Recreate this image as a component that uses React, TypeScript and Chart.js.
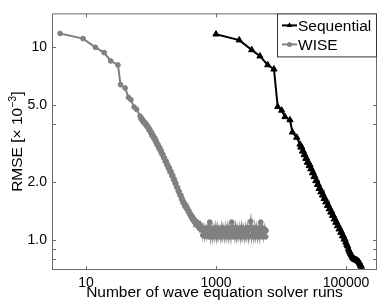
import React, { useEffect, useRef } from 'react';
import { Chart, registerables } from 'chart.js';

Chart.register(...registerables);

const FONT = "'Liberation Sans', Arial, Helvetica, sans-serif";

const SERIES_NAMES = ['Sequential', 'WISE'];

const SEQ_X = [1000, 2280, 3540, 4750, 6250, 7800, 8900, 10250, 11530, 13750, 15000, 17450,
  19600, 20200, 20800, 21400, 22000, 22700, 23400, 24100, 24800, 25500,
  26300, 27100, 27900, 28700, 29600, 30500, 31400, 32300, 33300, 34300,
  35300, 36400, 37500, 38600, 39800, 41000, 42200, 43500, 44800, 46100,
  47500, 48900, 50400, 51900, 53500, 55100, 56700, 58400, 60200, 62000,
  63900, 65800, 67700, 69800, 71900, 74000, 76200, 78500, 80900, 83300,
  85800, 88400, 91000, 93800, 96600, 99500,
  103000, 106000, 109000, 112000, 115000, 118000, 121000, 125000, 128000, 132000,
  136000, 140000, 144000, 148000, 152000, 155000, 159000, 162000, 165000, 168000,
  170000, 172000];
const SEQ_Y = [11.7, 10.9, 9.7, 9.0, 8.1, 7.7, 4.92, 4.71, 4.36, 4.20, 3.63, 3.41,
  3.14, 3.03, 3.04, 2.89, 2.90, 2.77, 2.77, 2.65, 2.65, 2.53,
  2.54, 2.43, 2.46, 2.34, 2.34, 2.23, 2.24, 2.13, 2.14, 2.03,
  2.04, 1.94, 1.945, 1.85, 1.86, 1.775, 1.79, 1.71, 1.715, 1.64,
  1.65, 1.575, 1.585, 1.51, 1.52, 1.45, 1.46, 1.395, 1.40, 1.34,
  1.345, 1.285, 1.29, 1.235, 1.24, 1.185, 1.19, 1.14, 1.145, 1.095,
  1.10, 1.05, 1.055, 1.01, 1.01, 0.975,
  0.95, 0.93, 0.90, 0.88, 0.865, 0.85, 0.835, 0.82, 0.81, 0.80,
  0.795, 0.79, 0.787, 0.785, 0.78, 0.775, 0.768, 0.76, 0.75, 0.74,
  0.735, 0.73];

const WISE_X = [4, 9, 14, 19, 24, 31, 34, 40, 45, 49, 55, 60,
  68, 70, 72, 74, 76, 78, 81, 83, 86, 88,
  91, 93, 96, 99, 102, 105, 108, 111, 114, 118,
  121, 125, 128, 132, 136, 140, 144, 148, 152, 157,
  161, 166, 171, 176, 181, 186, 192, 198, 203, 209,
  215, 222, 228, 235, 241, 249, 256, 263, 271, 279,
  287, 296, 304, 313, 322, 332, 341, 351, 361, 372,
  383, 394, 405, 417, 429, 442, 455, 468, 482, 496,
  510, 525, 541, 557, 573, 590,
  605, 627, 650, 673, 697, 722, 748, 775, 803, 832,
  862, 893, 925, 958, 993, 1029, 1066, 1104, 1144, 1185,
  1228, 1272, 1318, 1365, 1414, 1465, 1518, 1573, 1630, 1688,
  1749, 1812, 1877, 1945, 2015, 2087, 2162, 2240, 2321, 2404,
  2491, 2580, 2673, 2769, 2869, 2972, 3079, 3190, 3305, 3424,
  3547, 3675, 3807, 3944, 4086, 4233, 4385, 4543, 4707, 4876,
  5052, 5234, 5422, 5617, 5820, 5900];
const WISE_Y = [11.8, 11.1, 10.0, 9.4, 8.5, 8.1, 6.4, 6.15, 5.5, 5.35, 4.9, 4.77,
  4.40, 4.26, 4.28, 4.16, 4.17, 4.06, 4.07, 3.96, 3.97, 3.87,
  3.85, 3.73, 3.75, 3.61, 3.62, 3.48, 3.50, 3.36, 3.38, 3.24,
  3.26, 3.12, 3.14, 3.00, 3.02, 2.89, 2.90, 2.78, 2.79, 2.67,
  2.67, 2.56, 2.57, 2.45, 2.46, 2.36, 2.37, 2.26, 2.27, 2.16,
  2.17, 2.06, 2.07, 1.97, 1.98, 1.88, 1.88, 1.79, 1.79, 1.71,
  1.71, 1.63, 1.63, 1.56, 1.57, 1.50, 1.52, 1.46, 1.47, 1.41,
  1.42, 1.36, 1.37, 1.31, 1.33, 1.27, 1.29, 1.24, 1.26, 1.20,
  1.24, 1.18, 1.22, 1.15, 1.20, 1.13,
  1.16, 1.06, 1.15, 1.05, 1.14, 1.06, 1.16, 1.04, 1.24, 1.05,
  1.15, 1.04, 1.14, 1.05, 1.16, 1.04, 1.15, 1.05, 1.13, 1.04,
  1.16, 1.05, 1.14, 1.04, 1.15, 1.05, 1.16, 1.04, 1.14, 1.05,
  1.24, 1.04, 1.15, 1.05, 1.16, 1.04, 1.14, 1.05, 1.15, 1.04,
  1.16, 1.05, 1.14, 1.04, 1.15, 1.05, 1.16, 1.04, 1.15, 1.25,
  1.05, 1.14, 1.04, 1.16, 1.05, 1.15, 1.04, 1.14, 1.05, 1.24,
  1.04, 1.15, 1.05, 1.14, 1.04, 1.12];

const X_RANGE = [3, 300000];
const Y_RANGE = [0.7, 15];
const X_TICKS = [10, 1000, 100000];
const X_TICK_LABELS = ['10', '1000', '100000'];
const Y_TICKS = [0.8, 0.9, 1, 2, 4, 5, 10];
const Y_TICK_LABELS = ['', '', '1.0', '2.0', '', '5.0', '10'];
const X_TITLE = 'Number of wave equation solver runs';
const Y_TITLE_MAIN = 'RMSE [× 10';
const Y_TITLE_SUP = '−3';
const Y_TITLE_END = ']';

const framePlugin = {
  id: 'frame',
  afterDatasetsDraw(chart: any) {
    const { ctx, chartArea: a, scales } = chart;
    ctx.save();
    ctx.strokeStyle = '#6a6a6a';
    ctx.lineWidth = 1;
    ctx.strokeRect(a.left + 0.5, a.top + 0.5, a.right - a.left - 1, a.bottom - a.top - 1);
    const tl = 4;
    ctx.beginPath();
    scales.x.ticks.forEach((t: any) => {
      const p = Math.round(scales.x.getPixelForValue(t.value)) + 0.5;
      ctx.moveTo(p, a.bottom);
      ctx.lineTo(p, a.bottom - tl);
      ctx.moveTo(p, a.top);
      ctx.lineTo(p, a.top + tl);
    });
    scales.y.ticks.forEach((t: any) => {
      const p = Math.round(scales.y.getPixelForValue(t.value)) + 0.5;
      ctx.moveTo(a.left, p);
      ctx.lineTo(a.left + tl, p);
      ctx.moveTo(a.right, p);
      ctx.lineTo(a.right - tl, p);
    });
    ctx.stroke();
    ctx.restore();
  },
  afterDraw(chart: any) {
    const { ctx, chartArea: a } = chart;
    ctx.save();
    const big = `15.5px ${FONT}`;
    const small = `10.5px ${FONT}`;
    ctx.font = big;
    const w1 = ctx.measureText(Y_TITLE_MAIN).width;
    const w3 = ctx.measureText(Y_TITLE_END).width;
    ctx.font = small;
    const w2 = ctx.measureText(Y_TITLE_SUP).width;
    const total = w1 + w2 + w3;
    ctx.translate(22, (a.top + a.bottom) / 2);
    ctx.rotate(-Math.PI / 2);
    ctx.fillStyle = '#000';
    ctx.textBaseline = 'alphabetic';
    ctx.textAlign = 'left';
    const x0 = -total / 2;
    ctx.font = big;
    ctx.fillText(Y_TITLE_MAIN, x0, 0);
    ctx.font = small;
    ctx.fillText(Y_TITLE_SUP, x0 + w1, -6);
    ctx.font = big;
    ctx.fillText(Y_TITLE_END, x0 + w1 + w2, 0);
    ctx.restore();

    ctx.save();
    const lx = 277, ly = a.top, lw = a.right - 277, lh = 44;
    ctx.fillStyle = '#fff';
    ctx.fillRect(lx, ly, lw, lh);
    ctx.strokeStyle = '#333';
    ctx.lineWidth = 1;
    ctx.strokeRect(lx + 0.5, ly + 0.5, lw - 1, lh - 1);
    const rows = [ly + 12, ly + 31];
    chart.data.datasets.forEach((ds: any, i: number) => {
      const y = rows[i];
      ctx.strokeStyle = ds.borderColor;
      ctx.lineWidth = 2;
      ctx.beginPath();
      ctx.moveTo(lx + 5, y);
      ctx.lineTo(lx + 20, y);
      ctx.stroke();
      ctx.fillStyle = ds.borderColor;
      ctx.beginPath();
      if (ds.pointStyle === 'triangle') {
        const r = 3.2;
        ctx.moveTo(lx + 12.5, y - r);
        ctx.lineTo(lx + 12.5 + r * 0.866, y + r * 0.5);
        ctx.lineTo(lx + 12.5 - r * 0.866, y + r * 0.5);
        ctx.closePath();
      } else {
        ctx.arc(lx + 12.5, y, 2.5, 0, Math.PI * 2);
      }
      ctx.fill();
      ctx.fillStyle = '#000';
      ctx.font = `15.5px ${FONT}`;
      ctx.textBaseline = 'middle';
      ctx.textAlign = 'left';
      ctx.fillText(ds.label, lx + 21, y + 1);
    });
    ctx.restore();
  },
};

export default function App() {
  const ref = useRef<HTMLCanvasElement>(null);
  useEffect(() => {
    if (!ref.current) return;
    const seqData = SEQ_X.map((x, i) => ({ x, y: SEQ_Y[i] }));
    const wiseData = WISE_X.map((x, i) => ({ x, y: WISE_Y[i] }));
    const chart = new Chart(ref.current, {
      type: 'scatter',
      data: {
        datasets: [
          {
            label: SERIES_NAMES[0],
            data: seqData,
            showLine: true,
            borderColor: '#000000',
            backgroundColor: '#000000',
            borderWidth: 2,
            pointStyle: 'triangle',
            pointRadius: 3.6,
            pointBorderWidth: 1,
            pointBorderColor: '#000000',
            pointBackgroundColor: '#000000',
            tension: 0,
          },
          {
            label: SERIES_NAMES[1],
            data: wiseData,
            showLine: true,
            borderColor: '#808080',
            backgroundColor: '#808080',
            borderWidth: 2,
            pointStyle: 'circle',
            pointRadius: 2.4,
            pointBorderWidth: 1,
            pointBorderColor: '#808080',
            pointBackgroundColor: '#808080',
            tension: 0,
          },
        ],
      } as any,
      options: {
        responsive: false,
        animation: false,
        devicePixelRatio: 1,
        events: [],
        layout: { padding: { left: 0, right: 5, top: 5, bottom: 0 } },
        plugins: { legend: { display: false }, tooltip: { enabled: false } },
        scales: {
          x: {
            type: 'logarithmic',
            position: 'bottom',
            min: X_RANGE[0],
            max: X_RANGE[1],
            afterFit: (s: any) => { s.height = 36; },
            afterBuildTicks: (s: any) => { s.ticks = X_TICKS.map((v) => ({ value: v })); },
            ticks: {
              autoSkip: false,
              maxRotation: 0,
              minRotation: 0,
              padding: 5,
              color: '#000',
              font: { family: FONT, size: 14 },
              callback: (v: any) => {
                const i = X_TICKS.indexOf(Number(v));
                return i >= 0 ? X_TICK_LABELS[i] : '';
              },
            },
            grid: { display: false, drawTicks: false },
            border: { display: false },
            title: {
              display: true,
              text: X_TITLE,
              color: '#000',
              font: { family: FONT, size: 15.5 },
              padding: { top: 0, bottom: 4 },
            },
          },
          y: {
            type: 'logarithmic',
            position: 'left',
            min: Y_RANGE[0],
            max: Y_RANGE[1],
            afterFit: (s: any) => { s.width = 52; },
            afterBuildTicks: (s: any) => { s.ticks = Y_TICKS.map((v) => ({ value: v })); },
            ticks: {
              autoSkip: false,
              padding: 5,
              color: '#000',
              font: { family: FONT, size: 14 },
              callback: (v: any) => {
                const i = Y_TICKS.indexOf(Number(v));
                return i >= 0 ? Y_TICK_LABELS[i] : '';
              },
            },
            grid: { display: false, drawTicks: false },
            border: { display: false },
          },
        },
      } as any,
      plugins: [framePlugin],
    });
    return () => chart.destroy();
  }, []);
  return (
    <div style={{ position: 'absolute', left: 0, top: 0, width: 382, height: 306, background: '#fff' }}>
      <canvas ref={ref} width={382} height={306} style={{ display: 'block' }} />
    </div>
  );
}
